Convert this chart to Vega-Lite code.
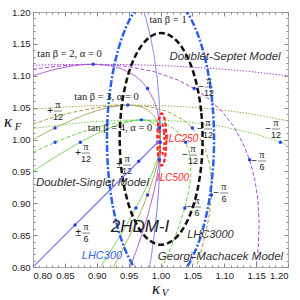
{
  "$schema": "https://vega.github.io/schema/vega-lite/v6.json",
  "width": 255,
  "height": 255,
  "autosize": {"type": "none"},
  "padding": {"left": 33, "top": 12, "right": 12, "bottom": 33},
  "background": "white",
  "config": {
    "view": {"stroke": "#aaaaaa", "strokeWidth": 1},
    "axis": {"grid": false, "domain": false, "tickColor": "#888888", "tickSize": -4, "labelPadding": 7, "labelFont": "Liberation Sans", "labelFontSize": 9.5, "labelColor": "#222222", "title": null}
  },
  "resolve": {"axis": {"x": "independent", "y": "independent"}},
  "datasets": {
    "curves": [
      {"s":"h1","x":0.974,"y":1.2005},{"s":"h1","x":0.975,"y":1.1972},{"s":"h1","x":0.98,"y":1.179},{"s":"h1","x":0.985,"y":1.1576},{"s":"h1","x":0.99,"y":1.1311},{"s":"h1","x":0.995,"y":1.0949},{"s":"h1","x":0.998,"y":1.0612},{"s":"h1","x":0.9995,"y":1.0311},{"s":"h1","x":0.9999,"y":1.0141},{"s":"h1","x":1.0,"y":1.0},{"s":"h1","x":0.9999,"y":0.9858},{"s":"h1","x":0.9995,"y":0.9679},{"s":"h1","x":0.998,"y":0.9348},{"s":"h1","x":0.995,"y":0.8951},{"s":"h1","x":0.99,"y":0.8489},{"s":"h1","x":0.985,"y":0.8124},{"s":"h1","x":0.983,"y":0.7994},
      {"s":"h2","x":0.8,"y":1.1},{"s":"h2","x":0.82,"y":1.1062},{"s":"h2","x":0.84,"y":1.1113},{"s":"h2","x":0.86,"y":1.1152},{"s":"h2","x":0.88,"y":1.1175},{"s":"h2","x":0.9,"y":1.1179},{"s":"h2","x":0.92,"y":1.116},{"s":"h2","x":0.94,"y":1.1106},{"s":"h2","x":0.96,"y":1.1},{"s":"h2","x":0.97,"y":1.0916},{"s":"h2","x":0.98,"y":1.0795},{"s":"h2","x":0.99,"y":1.0606},{"s":"h2","x":0.995,"y":1.045},{"s":"h2","x":0.998,"y":1.0296},{"s":"h2","x":0.9995,"y":1.0153},{"s":"h2","x":0.9999,"y":1.007},{"s":"h2","x":1.0,"y":1.0},{"s":"h2","x":0.9999,"y":0.9928},{"s":"h2","x":0.9995,"y":0.9837},{"s":"h2","x":0.998,"y":0.9664},{"s":"h2","x":0.995,"y":0.945},{"s":"h2","x":0.99,"y":0.9194},{"s":"h2","x":0.98,"y":0.8805},{"s":"h2","x":0.97,"y":0.8484},{"s":"h2","x":0.96,"y":0.82},{"s":"h2","x":0.952,"y":0.799},
      {"s":"h3","x":0.8,"y":1.0},{"s":"h3","x":0.82,"y":1.0108},{"s":"h3","x":0.84,"y":1.0209},{"s":"h3","x":0.86,"y":1.0301},{"s":"h3","x":0.88,"y":1.0383},{"s":"h3","x":0.9,"y":1.0453},{"s":"h3","x":0.92,"y":1.0506},{"s":"h3","x":0.94,"y":1.0537},{"s":"h3","x":0.95,"y":1.0541},{"s":"h3","x":0.96,"y":1.0533},{"s":"h3","x":0.97,"y":1.051},{"s":"h3","x":0.98,"y":1.0463},{"s":"h3","x":0.99,"y":1.037},{"s":"h3","x":0.995,"y":1.0283},{"s":"h3","x":0.998,"y":1.0191},{"s":"h3","x":0.9995,"y":1.01},{"s":"h3","x":0.9999,"y":1.0046},{"s":"h3","x":1.0,"y":1.0},{"s":"h3","x":0.9999,"y":0.9952},{"s":"h3","x":0.9995,"y":0.989},{"s":"h3","x":0.998,"y":0.9769},{"s":"h3","x":0.995,"y":0.9617},{"s":"h3","x":0.99,"y":0.943},{"s":"h3","x":0.98,"y":0.9137},{"s":"h3","x":0.97,"y":0.889},{"s":"h3","x":0.96,"y":0.8667},{"s":"h3","x":0.95,"y":0.8459},{"s":"h3","x":0.94,"y":0.8263},{"s":"h3","x":0.926,"y":0.8002},
      {"s":"h4","x":0.8,"y":0.95},{"s":"h4","x":0.82,"y":0.9631},{"s":"h4","x":0.84,"y":0.9757},{"s":"h4","x":0.86,"y":0.9876},{"s":"h4","x":0.88,"y":0.9988},{"s":"h4","x":0.9,"y":1.009},{"s":"h4","x":0.92,"y":1.018},{"s":"h4","x":0.94,"y":1.0253},{"s":"h4","x":0.96,"y":1.03},{"s":"h4","x":0.97,"y":1.0308},{"s":"h4","x":0.98,"y":1.0298},{"s":"h4","x":0.99,"y":1.0253},{"s":"h4","x":0.995,"y":1.02},{"s":"h4","x":0.998,"y":1.0138},{"s":"h4","x":0.9995,"y":1.0074},{"s":"h4","x":0.9999,"y":1.0034},{"s":"h4","x":1.0,"y":1.0},{"s":"h4","x":0.9999,"y":0.9964},{"s":"h4","x":0.9995,"y":0.9916},{"s":"h4","x":0.998,"y":0.9822},{"s":"h4","x":0.995,"y":0.97},{"s":"h4","x":0.99,"y":0.9547},{"s":"h4","x":0.98,"y":0.9302},{"s":"h4","x":0.97,"y":0.9092},{"s":"h4","x":0.96,"y":0.89},{"s":"h4","x":0.95,"y":0.872},{"s":"h4","x":0.94,"y":0.8547},{"s":"h4","x":0.92,"y":0.822},{"s":"h4","x":0.906,"y":0.8002},
      {"s":"g2","x":0.8002,"y":1.1099},{"s":"g2","x":0.8132,"y":1.1119},{"s":"g2","x":0.8413,"y":1.1153},{"s":"g2","x":0.8684,"y":1.1174},{"s":"g2","x":0.8944,"y":1.118},{"s":"g2","x":0.9432,"y":1.1153},{"s":"g2","x":0.9874,"y":1.1072},{"s":"g2","x":1.0267,"y":1.0936},{"s":"g2","x":1.053,"y":1.0799},{"s":"g2","x":1.0763,"y":1.0633},{"s":"g2","x":1.0967,"y":1.0438},{"s":"g2","x":1.1142,"y":1.0214},{"s":"g2","x":1.1285,"y":0.9962},{"s":"g2","x":1.1398,"y":0.9683},{"s":"g2","x":1.1479,"y":0.9377},{"s":"g2","x":1.1529,"y":0.9045},{"s":"g2","x":1.1547,"y":0.8689},{"s":"g2","x":1.1534,"y":0.8309},{"s":"g2","x":1.1502,"y":0.8002},
      {"s":"g3","x":0.8,"y":1.0243},{"s":"g3","x":0.8206,"y":1.0311},{"s":"g3","x":0.8446,"y":1.0381},{"s":"g3","x":0.8676,"y":1.0438},{"s":"g3","x":0.8895,"y":1.0483},{"s":"g3","x":0.9104,"y":1.0515},{"s":"g3","x":0.9301,"y":1.0535},{"s":"g3","x":0.9487,"y":1.0541},{"s":"g3","x":0.9824,"y":1.0515},{"s":"g3","x":1.0113,"y":1.0438},{"s":"g3","x":1.0353,"y":1.0311},{"s":"g3","x":1.05,"y":1.0182},{"s":"g3","x":1.0618,"y":1.0025},{"s":"g3","x":1.0707,"y":0.9841},{"s":"g3","x":1.0767,"y":0.963},{"s":"g3","x":1.0797,"y":0.9392},{"s":"g3","x":1.0798,"y":0.9129},{"s":"g3","x":1.0769,"y":0.884},{"s":"g3","x":1.071,"y":0.8528},{"s":"g3","x":1.0622,"y":0.8192},{"s":"g3","x":1.0564,"y":0.8003},
      {"s":"g4","x":0.8003,"y":0.9803},{"s":"g4","x":0.8346,"y":0.9957},{"s":"g4","x":0.8666,"y":1.0083},{"s":"g4","x":0.9056,"y":1.0208},{"s":"g4","x":0.9401,"y":1.0283},{"s":"g4","x":0.9701,"y":1.0308},{"s":"g4","x":0.9954,"y":1.0283},{"s":"g4","x":1.0158,"y":1.0208},{"s":"g4","x":1.0313,"y":1.0083},{"s":"g4","x":1.0396,"y":0.9957},{"s":"g4","x":1.0451,"y":0.9803},{"s":"g4","x":1.0476,"y":0.9623},{"s":"g4","x":1.0474,"y":0.9417},{"s":"g4","x":1.0442,"y":0.9184},{"s":"g4","x":1.0382,"y":0.8927},{"s":"g4","x":1.0293,"y":0.8645},{"s":"g4","x":1.0177,"y":0.8339},{"s":"g4","x":1.0027,"y":0.7999},
      {"s":"s2","x":0.7999,"y":1.1165},{"s":"s2","x":0.8315,"y":1.1174},{"s":"s2","x":0.8944,"y":1.118},{"s":"s2","x":0.9563,"y":1.1174},{"s":"s2","x":1.017,"y":1.1153},{"s":"s2","x":1.0765,"y":1.1119},{"s":"s2","x":1.1347,"y":1.1072},{"s":"s2","x":1.1999,"y":1.1},
      {"s":"s3","x":0.8001,"y":1.0474},{"s":"s3","x":0.8581,"y":1.0515},{"s":"s3","x":0.904,"y":1.0535},{"s":"s3","x":0.9487,"y":1.0541},{"s":"s3","x":0.9923,"y":1.0535},{"s":"s3","x":1.0346,"y":1.0515},{"s":"s3","x":1.0757,"y":1.0483},{"s":"s3","x":1.1155,"y":1.0438},{"s":"s3","x":1.1539,"y":1.0381},{"s":"s3","x":1.2,"y":1.0291},
      {"s":"s4","x":0.8006,"y":1.0172},{"s":"s4","x":0.8634,"y":1.0251},{"s":"s4","x":0.9001,"y":1.0283},{"s":"s4","x":0.9357,"y":1.0302},{"s":"s4","x":0.9701,"y":1.0308},{"s":"s4","x":1.0034,"y":1.0302},{"s":"s4","x":1.0355,"y":1.0283},{"s":"s4","x":1.0957,"y":1.0208},{"s":"s4","x":1.1506,"y":1.0083},{"s":"s4","x":1.1882,"y":0.9957},{"s":"s4","x":1.2,"y":0.9909}
    ],
    "ds": [{"x":0.8,"y":0.8},{"x":0.9,"y":0.9},{"x":1.0,"y":1.0}],
    "ell": [
      {"e":"L300","x":1.084,"y":1.0},{"e":"L300","x":1.0811,"y":1.0595},{"e":"L300","x":1.0727,"y":1.115},{"e":"L300","x":1.0594,"y":1.1626},{"e":"L300","x":1.042,"y":1.1992},{"e":"L300","x":1.0217,"y":1.2222},{"e":"L300","x":1.0,"y":1.23},{"e":"L300","x":0.9783,"y":1.2222},{"e":"L300","x":0.958,"y":1.1992},{"e":"L300","x":0.9406,"y":1.1626},{"e":"L300","x":0.9273,"y":1.115},{"e":"L300","x":0.9189,"y":1.0595},{"e":"L300","x":0.916,"y":1.0},{"e":"L300","x":0.9189,"y":0.9405},{"e":"L300","x":0.9273,"y":0.885},{"e":"L300","x":0.9406,"y":0.8374},{"e":"L300","x":0.958,"y":0.8008},{"e":"L300","x":0.9783,"y":0.7778},{"e":"L300","x":1.0,"y":0.77},{"e":"L300","x":1.0217,"y":0.7778},{"e":"L300","x":1.042,"y":0.8008},{"e":"L300","x":1.0594,"y":0.8374},{"e":"L300","x":1.0727,"y":0.885},{"e":"L300","x":1.0811,"y":0.9405},
      {"e":"L3000","x":1.066,"y":1.001},{"e":"L3000","x":1.0638,"y":1.044},{"e":"L3000","x":1.0573,"y":1.084},{"e":"L3000","x":1.047,"y":1.1184},{"e":"L3000","x":1.0335,"y":1.1448},{"e":"L3000","x":1.0178,"y":1.1613},{"e":"L3000","x":1.001,"y":1.167},{"e":"L3000","x":0.9842,"y":1.1613},{"e":"L3000","x":0.9685,"y":1.1448},{"e":"L3000","x":0.955,"y":1.1184},{"e":"L3000","x":0.9447,"y":1.084},{"e":"L3000","x":0.9382,"y":1.044},{"e":"L3000","x":0.936,"y":1.001},{"e":"L3000","x":0.9382,"y":0.958},{"e":"L3000","x":0.9447,"y":0.918},{"e":"L3000","x":0.955,"y":0.8836},{"e":"L3000","x":0.9685,"y":0.8572},{"e":"L3000","x":0.9842,"y":0.8407},{"e":"L3000","x":1.001,"y":0.835},{"e":"L3000","x":1.0178,"y":0.8407},{"e":"L3000","x":1.0335,"y":0.8572},{"e":"L3000","x":1.047,"y":0.8836},{"e":"L3000","x":1.0573,"y":0.918},{"e":"L3000","x":1.0638,"y":0.958},
      {"e":"I250","x":1.009,"y":1.0},{"e":"I250","x":1.0081,"y":1.0205},{"e":"I250","x":1.0055,"y":1.0355},{"e":"I250","x":1.002,"y":1.041},{"e":"I250","x":0.9985,"y":1.0355},{"e":"I250","x":0.9959,"y":1.0205},{"e":"I250","x":0.995,"y":1.0},{"e":"I250","x":0.9959,"y":0.9795},{"e":"I250","x":0.9985,"y":0.9645},{"e":"I250","x":1.002,"y":0.959},{"e":"I250","x":1.0055,"y":0.9645},{"e":"I250","x":1.0081,"y":0.9795},
      {"e":"I500","x":1.006,"y":1.0},{"e":"I500","x":1.0055,"y":1.012},{"e":"I500","x":1.004,"y":1.0208},{"e":"I500","x":1.002,"y":1.024},{"e":"I500","x":1.0,"y":1.0208},{"e":"I500","x":0.9985,"y":1.012},{"e":"I500","x":0.998,"y":1.0},{"e":"I500","x":0.9985,"y":0.988},{"e":"I500","x":1.0,"y":0.9792},{"e":"I500","x":1.002,"y":0.976},{"e":"I500","x":1.004,"y":0.9792},{"e":"I500","x":1.0055,"y":0.988}
    ],
    "dots": [
      {"x":0.8944,"y":1.118},{"x":0.9487,"y":1.0541},{"x":0.9701,"y":1.0308},{"x":0.8345,"y":1.0182},{"x":0.8743,"y":0.9957},{"x":0.8346,"y":0.9957},{"x":0.9797,"y":1.08},{"x":0.9982,"y":1.0182},{"x":0.9998,"y":0.9957},{"x":1.0529,"y":1.08},{"x":1.05,"y":1.0182},{"x":1.0395,"y":0.9957},{"x":1.1881,"y":0.9957},{"x":0.9982,"y":0.9683},{"x":0.9797,"y":0.9129},{"x":0.9614,"y":0.8927},{"x":1.1397,"y":0.9683},{"x":1.0798,"y":0.9129},{"x":1.0381,"y":0.8927},{"x":0.9659,"y":0.9659},{"x":0.866,"y":0.866}
    ],
    "fr": [
      {"sg":"+","n":"12","x":0.8392,"y":1.0447},{"sg":"+","n":"12","x":0.8831,"y":0.9788},{"sg":"±","n":"12","x":0.9475,"y":0.96},{"sg":"±","n":"6","x":0.8831,"y":0.8533},{"sg":"−","n":"12","x":1.0761,"y":1.0824},{"sg":"−","n":"12","x":1.0745,"y":1.0165},{"sg":"−","n":"12","x":1.1812,"y":1.0165},{"sg":"−","n":"12","x":1.051,"y":0.9757},{"sg":"−","n":"6","x":1.1592,"y":0.9663},{"sg":"−","n":"6","x":1.0996,"y":0.9161},{"sg":"−","n":"6","x":1.0573,"y":0.8941}
    ],
    "lab": [
      {"g":"tan","txt":"tan β = 1","x":1.0118,"y":1.1875},{"g":"tan","txt":"tan β = 2, α = 0","x":0.8573,"y":1.1341},{"g":"tan","txt":"tan β = 3, α = 0","x":0.9153,"y":1.0667},{"g":"tan","txt":"tan β = 4, α = 0","x":0.9365,"y":1.018},
      {"g":"model","txt":"Doublet-Septet Model","x":1.1012,"y":1.1294},{"g":"model","txt":"Doublet-Singlet Model","x":0.8933,"y":0.9318},{"g":"model","txt":"Georgi-Machacek Model","x":1.0941,"y":0.8157},
      {"g":"hdm","txt":"2HDM-I","x":0.9678,"y":0.8627},
      {"g":"l300","txt":"LHC300","x":0.9082,"y":0.8173},
      {"g":"l3000","txt":"LHC3000","x":1.0784,"y":0.8502},
      {"g":"ilc","txt":"ILC250","x":1.0337,"y":1.0008},{"g":"ilc","txt":"ILC500","x":1.0196,"y":0.9396},
      {"g":"kap","txt":"κ","x":0.7608,"y":1.028},{"g":"kap","txt":"κ","x":0.9929,"y":0.7655},
      {"g":"sub","txt":"F","x":0.7765,"y":1.019},{"g":"sub","txt":"V","x":1.0071,"y":0.7585}
    ]
  },
  "encoding": {
    "x": {"field": "x", "type": "quantitative", "scale": {"domain": [0.8, 1.2], "nice": false, "zero": false}, "axis": null},
    "y": {"field": "y", "type": "quantitative", "scale": {"domain": [0.8, 1.2], "nice": false, "zero": false}, "axis": null}
  },
  "layer": [
    {
      "data": {"name": "curves"},
      "mark": {"type": "line", "clip": true, "strokeWidth": 1},
      "encoding": {
        "x": {"field": "x", "type": "quantitative", "scale": {"domain": [0.8, 1.2], "nice": false, "zero": false}, "axis": {"orient": "bottom", "values": [0.8,0.85,0.9,0.95,1.0,1.05,1.1,1.15,1.2], "format": ".2f"}},
        "y": {"field": "y", "type": "quantitative", "scale": {"domain": [0.8, 1.2], "nice": false, "zero": false}, "axis": {"orient": "left", "values": [0.8,0.85,0.9,0.95,1.0,1.05,1.1,1.15,1.2], "format": ".2f"}},
        "order": {"value": null},
        "color": {"field": "s", "type": "nominal", "legend": null, "scale": {"domain": ["h1","h2","h3","h4","g2","g3","g4","s2","s3","s4"], "range": ["#7878ee","#a64fd0","#a6a24a","#6fcf4f","#a64fd0","#a6a24a","#6fcf4f","#a64fd0","#a6a24a","#6fcf4f"]}},
        "strokeDash": {"field": "s", "type": "nominal", "legend": null, "scale": {"domain": ["h1","h2","h3","h4","g2","g3","g4","s2","s3","s4"], "range": [[1,0],[1,0],[1,0],[1,0],[4,2],[4,2],[4,2],[1.5,1.5],[1.5,1.5],[1.5,1.5]]}}
      }
    },
    {
      "data": {"name": "ell"},
      "transform": [{"filter": "datum.e == 'L300'"}],
      "mark": {"type": "line", "clip": true, "strokeWidth": 2.5, "color": "#2a5ff0", "strokeDash": [7,2,2,2], "interpolate": "cardinal-closed"},
      "encoding": {
        "order": {"value": null},
        "x": {"field": "x", "type": "quantitative", "scale": {"domain": [0.8, 1.2], "nice": false, "zero": false}, "axis": {"orient": "top", "labels": false, "values": [0.8,0.85,0.9,0.95,1.0,1.05,1.1,1.15,1.2]}},
        "y": {"field": "y", "type": "quantitative", "scale": {"domain": [0.8, 1.2], "nice": false, "zero": false}, "axis": {"orient": "right", "labels": false, "values": [0.8,0.85,0.9,0.95,1.0,1.05,1.1,1.15,1.2]}}
      }
    },
    {
      "data": {"name": "ell"},
      "transform": [{"filter": "datum.e == 'L3000'"}],
      "mark": {"type": "line", "clip": true, "strokeWidth": 2.5, "color": "#111111", "strokeDash": [6,3], "interpolate": "cardinal-closed"},
      "encoding": {
        "order": {"value": null},
        "x": {"field": "x", "type": "quantitative", "scale": {"domain": [0.8, 1.2], "nice": false, "zero": false}, "axis": {"orient": "bottom", "labels": false, "tickSize": -2, "values": [0.81,0.82,0.83,0.84,0.86,0.87,0.88,0.89,0.91,0.92,0.93,0.94,0.96,0.97,0.98,0.99,1.01,1.02,1.03,1.04,1.06,1.07,1.08,1.09,1.11,1.12,1.13,1.14,1.16,1.17,1.18,1.19]}},
        "y": {"field": "y", "type": "quantitative", "scale": {"domain": [0.8, 1.2], "nice": false, "zero": false}, "axis": {"orient": "left", "labels": false, "tickSize": -2, "values": [0.81,0.82,0.83,0.84,0.86,0.87,0.88,0.89,0.91,0.92,0.93,0.94,0.96,0.97,0.98,0.99,1.01,1.02,1.03,1.04,1.06,1.07,1.08,1.09,1.11,1.12,1.13,1.14,1.16,1.17,1.18,1.19]}}
      }
    },
    {
      "data": {"name": "ell"},
      "transform": [{"filter": "datum.e == 'I250'"}],
      "mark": {"type": "line", "clip": true, "strokeWidth": 2.2, "color": "#ff2020", "strokeDash": [4,2], "interpolate": "cardinal-closed"},
      "encoding": {
        "order": {"value": null},
        "x": {"field": "x", "type": "quantitative", "scale": {"domain": [0.8, 1.2], "nice": false, "zero": false}, "axis": {"orient": "top", "labels": false, "tickSize": -2, "values": [0.81,0.82,0.83,0.84,0.86,0.87,0.88,0.89,0.91,0.92,0.93,0.94,0.96,0.97,0.98,0.99,1.01,1.02,1.03,1.04,1.06,1.07,1.08,1.09,1.11,1.12,1.13,1.14,1.16,1.17,1.18,1.19]}},
        "y": {"field": "y", "type": "quantitative", "scale": {"domain": [0.8, 1.2], "nice": false, "zero": false}, "axis": {"orient": "right", "labels": false, "tickSize": -2, "values": [0.81,0.82,0.83,0.84,0.86,0.87,0.88,0.89,0.91,0.92,0.93,0.94,0.96,0.97,0.98,0.99,1.01,1.02,1.03,1.04,1.06,1.07,1.08,1.09,1.11,1.12,1.13,1.14,1.16,1.17,1.18,1.19]}}
      }
    },
    {
      "data": {"name": "ell"},
      "transform": [{"filter": "datum.e == 'I500'"}],
      "mark": {"type": "line", "clip": true, "strokeWidth": 2, "color": "#ff2020", "strokeDash": [3,2], "interpolate": "cardinal-closed"},
      "encoding": {"order": {"value": null}}
    },
    {
      "data": {"name": "fr"},
      "mark": {"type": "tick", "orient": "horizontal", "size": 8, "thickness": 0.8, "color": "#222222"}
    },
    {
      "data": {"name": "fr"},
      "mark": {"type": "text", "font": "Liberation Serif", "fontSize": 10.5, "baseline": "bottom", "dy": -1, "color": "#222222"},
      "encoding": {"text": {"value": "π"}}
    },
    {
      "data": {"name": "fr"},
      "mark": {"type": "text", "font": "Liberation Sans", "fontSize": 9, "baseline": "top", "dy": 2, "color": "#222222"},
      "encoding": {"text": {"field": "n"}}
    },
    {
      "data": {"name": "fr"},
      "mark": {"type": "text", "font": "Liberation Sans", "fontSize": 10, "baseline": "middle", "align": "right", "dx": -5, "color": "#222222"},
      "encoding": {"text": {"field": "sg"}}
    },
    {
      "data": {"name": "lab"},
      "transform": [{"filter": "datum.g == 'tan'"}],
      "mark": {"type": "text", "font": "Liberation Serif", "fontSize": 10.5, "color": "#222222"},
      "encoding": {"text": {"field": "txt"}}
    },
    {
      "data": {"name": "lab"},
      "transform": [{"filter": "datum.g == 'model'"}],
      "mark": {"type": "text", "font": "Liberation Sans", "fontStyle": "italic", "fontSize": 11.5, "color": "#333333"},
      "encoding": {"text": {"field": "txt"}}
    },
    {
      "data": {"name": "lab"},
      "transform": [{"filter": "datum.g == 'hdm'"}],
      "mark": {"type": "text", "font": "Liberation Sans", "fontStyle": "italic", "fontSize": 17, "color": "#222222"},
      "encoding": {"text": {"field": "txt"}}
    },
    {
      "data": {"name": "lab"},
      "transform": [{"filter": "datum.g == 'l300'"}],
      "mark": {"type": "text", "font": "Liberation Sans", "fontStyle": "italic", "fontSize": 11, "color": "#3366ee"},
      "encoding": {"text": {"field": "txt"}}
    },
    {
      "data": {"name": "lab"},
      "transform": [{"filter": "datum.g == 'l3000'"}],
      "mark": {"type": "text", "font": "Liberation Sans", "fontStyle": "italic", "fontSize": 11, "color": "#333333"},
      "encoding": {"text": {"field": "txt"}}
    },
    {
      "data": {"name": "lab"},
      "transform": [{"filter": "datum.g == 'ilc'"}],
      "mark": {"type": "text", "font": "Liberation Sans", "fontStyle": "italic", "fontSize": 10, "color": "#ff2a2a"},
      "encoding": {"text": {"field": "txt"}}
    },
    {
      "data": {"name": "lab"},
      "transform": [{"filter": "datum.g == 'kap'"}],
      "mark": {"type": "text", "font": "Liberation Serif", "fontStyle": "italic", "fontSize": 17, "color": "#111111"},
      "encoding": {"text": {"field": "txt"}}
    },
    {
      "data": {"name": "lab"},
      "transform": [{"filter": "datum.g == 'sub'"}],
      "mark": {"type": "text", "font": "Liberation Serif", "fontStyle": "italic", "fontSize": 10.5, "color": "#111111"},
      "encoding": {"text": {"field": "txt"}}
    },
    {
      "data": {"name": "ds"},
      "mark": {"type": "line", "clip": true, "strokeWidth": 1.1, "stroke": "#7070f0", "color": "#7070f0"},
      "encoding": {}
    },
    {
      "data": {"name": "dots"},
      "mark": {"type": "circle", "size": 12, "color": "#2040ff", "opacity": 1}
    }
  ]
}
